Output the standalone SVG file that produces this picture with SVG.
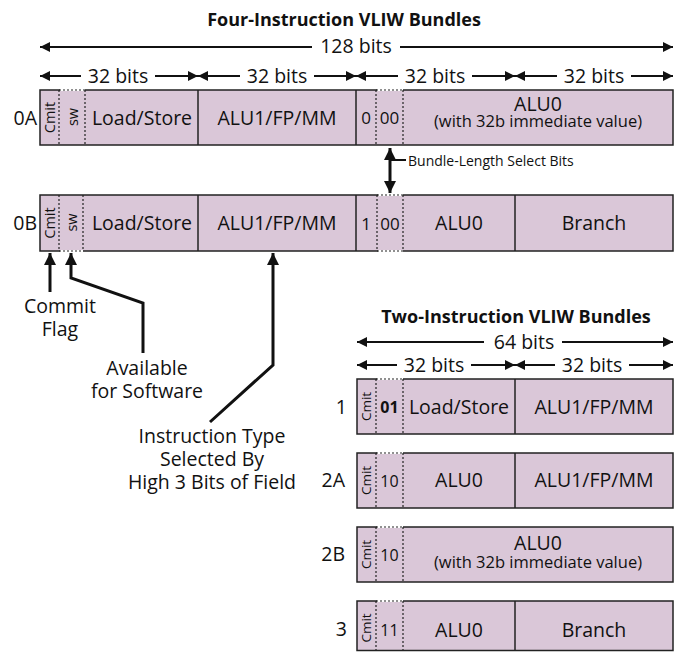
<svg xmlns="http://www.w3.org/2000/svg" width="676" height="652" viewBox="0 0 676 652">
<style>
text{font-family:"Open Sans","Noto Sans",sans-serif;fill:#111}
.t{font-size:19.5px;text-anchor:middle}
.ti{font-size:18px;font-weight:bold;text-anchor:middle}
.sm{font-size:16.5px;text-anchor:middle}
.lab{font-size:19.5px;text-anchor:end}
.rot{font-size:14.5px;text-anchor:middle}
.dig{font-size:17px;text-anchor:middle}
.cell{fill:#dac7d8;stroke:#222;stroke-width:1.5}
.sol{stroke:#222;stroke-width:1.5}
.dot{stroke:#222;stroke-width:1.2;stroke-dasharray:2 2;fill:none}
.wht{stroke:#fff;stroke-width:2}
.dim{stroke:#111;stroke-width:2;fill:none;marker-start:url(#ah);marker-end:url(#ah)}
.call{stroke:#111;stroke-width:3;fill:none;marker-end:url(#ah2)}
.bg{fill:#fff}
</style>
<defs>
<marker id="ah" viewBox="0 0 10 10" refX="10" refY="5" markerUnits="userSpaceOnUse" markerWidth="13" markerHeight="10" orient="auto-start-reverse"><path d="M0,0 L10,5 L0,10 z" fill="#111"/></marker>
<marker id="ah2" viewBox="0 0 10 10" refX="10" refY="5" markerUnits="userSpaceOnUse" markerWidth="13" markerHeight="12" orient="auto-start-reverse"><path d="M0,0 L10,5 L0,10 z" fill="#111"/></marker>
</defs>

<g id="titles">
<text class="ti" x="344" y="26">Four-Instruction VLIW Bundles</text>
<text class="ti" x="516" y="323">Two-Instruction VLIW Bundles</text>
</g>

<g id="connectors">
<line class="dim" x1="40" y1="47" x2="673" y2="47"/>
<rect class="bg" x="312" y="35" width="88" height="24"/>
<text class="t" x="356" y="53">128 bits</text>
<line class="dim" x1="40" y1="76" x2="198" y2="76"/>
<line class="dim" x1="198" y1="76" x2="356" y2="76"/>
<line class="dim" x1="356" y1="76" x2="515" y2="76"/>
<line class="dim" x1="515" y1="76" x2="673" y2="76"/>
<rect class="bg" x="81" y="64" width="74" height="24"/>
<rect class="bg" x="240" y="64" width="74" height="24"/>
<rect class="bg" x="398" y="64" width="74" height="24"/>
<rect class="bg" x="557" y="64" width="74" height="24"/>
<text class="t" x="118" y="82.5">32 bits</text>
<text class="t" x="277" y="82.5">32 bits</text>
<text class="t" x="435" y="82.5">32 bits</text>
<text class="t" x="594" y="82.5">32 bits</text>
<line class="dim" x1="357" y1="342" x2="673" y2="342"/>
<rect class="bg" x="484" y="331" width="78" height="22"/>
<text class="t" x="524" y="348.5">64 bits</text>
<line class="dim" x1="357" y1="365" x2="515" y2="365"/>
<line class="dim" x1="515" y1="365" x2="673" y2="365"/>
<rect class="bg" x="397" y="354" width="74" height="22"/>
<rect class="bg" x="555" y="354" width="74" height="22"/>
<text class="t" x="434" y="372">32 bits</text>
<text class="t" x="592" y="372">32 bits</text>
<line x1="390" y1="148" x2="390" y2="193" style="stroke:#111;stroke-width:3;marker-start:url(#ah2);marker-end:url(#ah2)"/>
<line x1="390" y1="160" x2="406" y2="160" style="stroke:#111;stroke-width:2"/>
<text x="408" y="166" style="font-size:14px">Bundle-Length Select Bits</text>
<path class="call" d="M50,292 L50,253"/>
<path class="call" d="M143,353 L143,303 L71,278 L71,253"/>
<path class="call" d="M210,422 L273,365 L273,253"/>
</g>

<g id="callout-labels">
<text class="t" x="60" y="313">Commit</text>
<text class="t" x="60" y="336">Flag</text>
<text class="t" x="147" y="375">Available</text>
<text class="t" x="147" y="398">for Software</text>
<text class="t" x="212" y="443">Instruction Type</text>
<text class="t" x="212" y="466">Selected By</text>
<text class="t" x="212" y="489">High 3 Bits of Field</text>
</g>

<g id="bundle-0A">
<rect class="cell" x="40" y="90" width="633" height="55"/>
<line class="wht" x1="60" y1="90" x2="85" y2="90"/>
<line class="dot" x1="59" y1="90" x2="85" y2="90"/>
<line class="wht" x1="377" y1="90" x2="403" y2="90"/>
<line class="dot" x1="376" y1="90" x2="403" y2="90"/>
<line class="dot" x1="59" y1="90" x2="59" y2="145"/>
<line class="dot" x1="85" y1="90" x2="85" y2="145"/>
<line class="sol" x1="198" y1="90" x2="198" y2="145"/>
<line class="sol" x1="356" y1="90" x2="356" y2="145"/>
<line class="dot" x1="376" y1="90" x2="376" y2="145"/>
<line class="dot" x1="403" y1="90" x2="403" y2="145"/>
<text class="lab" x="37" y="125">0A</text>
<text class="rot" transform="translate(54.5,117.5) rotate(-90)">Cmit</text>
<text class="rot" transform="translate(77.5,117) rotate(-90)">sw</text>
<text class="t" x="142" y="124.5">Load/Store</text>
<text class="t" x="277" y="124.5">ALU1/FP/MM</text>
<text class="dig" x="366" y="124">0</text>
<text class="dig" x="389.5" y="124">00</text>
<text class="t" x="538" y="110.5">ALU0</text>
<text class="sm" x="538" y="127">(with 32b immediate value)</text>
</g>

<g id="bundle-0B">
<rect class="cell" x="40" y="195" width="633" height="56"/>
<line class="wht" x1="60" y1="251" x2="83" y2="251"/>
<line class="dot" x1="59" y1="251" x2="83" y2="251"/>
<line class="wht" x1="378" y1="195" x2="403" y2="195"/>
<line class="dot" x1="377" y1="195" x2="403" y2="195"/>
<line class="wht" x1="378" y1="251" x2="403" y2="251"/>
<line class="dot" x1="377" y1="251" x2="403" y2="251"/>
<line class="dot" x1="59" y1="195" x2="59" y2="251"/>
<line class="dot" x1="83" y1="195" x2="83" y2="251"/>
<line class="sol" x1="198" y1="195" x2="198" y2="251"/>
<line class="sol" x1="356" y1="195" x2="356" y2="251"/>
<line class="dot" x1="377" y1="195" x2="377" y2="251"/>
<line class="dot" x1="403" y1="195" x2="403" y2="251"/>
<line class="sol" x1="515" y1="195" x2="515" y2="251"/>
<text class="lab" x="37" y="230">0B</text>
<text class="rot" transform="translate(54.5,223) rotate(-90)">Cmit</text>
<text class="rot" transform="translate(76.5,222.5) rotate(-90)">sw</text>
<text class="t" x="142" y="230">Load/Store</text>
<text class="t" x="277" y="230">ALU1/FP/MM</text>
<text class="dig" x="366" y="229.5">1</text>
<text class="dig" x="390" y="229.5">00</text>
<text class="t" x="459" y="230">ALU0</text>
<text class="t" x="594" y="230">Branch</text>
</g>

<g id="bundle-1">
<rect class="cell" x="357" y="379" width="316" height="55"/>
<line class="wht" x1="377" y1="379" x2="403" y2="379"/>
<line class="dot" x1="376" y1="379" x2="403" y2="379"/>
<line class="dot" x1="376" y1="379" x2="376" y2="434"/>
<line class="dot" x1="403" y1="379" x2="403" y2="434"/>
<line class="sol" x1="515" y1="379" x2="515" y2="434"/>
<text class="lab" x="347" y="413.5">1</text>
<text class="rot" transform="translate(370.5,406.5) rotate(-90)" style="font-size:13.5px">Cmit</text>
<text class="dig" x="389.5" y="413" style="font-weight:bold;font-size:16px">01</text>
<text class="t" x="459" y="413.5">Load/Store</text>
<text class="t" x="594" y="413.5">ALU1/FP/MM</text>
</g>

<g id="bundle-2A">
<rect class="cell" x="357" y="453" width="316" height="55"/>
<line class="wht" x1="377" y1="453" x2="403" y2="453"/>
<line class="dot" x1="376" y1="453" x2="403" y2="453"/>
<line class="dot" x1="376" y1="453" x2="376" y2="508"/>
<line class="dot" x1="403" y1="453" x2="403" y2="508"/>
<line class="sol" x1="515" y1="453" x2="515" y2="508"/>
<text class="lab" x="345" y="487">2A</text>
<text class="rot" transform="translate(370.5,480.5) rotate(-90)" style="font-size:13.5px">Cmit</text>
<text class="dig" x="389.5" y="487" style="font-size:16px">10</text>
<text class="t" x="459" y="487">ALU0</text>
<text class="t" x="594" y="487">ALU1/FP/MM</text>
</g>

<g id="bundle-2B">
<rect class="cell" x="357" y="527" width="316" height="55"/>
<line class="wht" x1="377" y1="527" x2="403" y2="527"/>
<line class="dot" x1="376" y1="527" x2="403" y2="527"/>
<line class="dot" x1="376" y1="527" x2="376" y2="582"/>
<line class="dot" x1="403" y1="527" x2="403" y2="582"/>
<text class="lab" x="345" y="561">2B</text>
<text class="rot" transform="translate(370.5,554.5) rotate(-90)" style="font-size:13.5px">Cmit</text>
<text class="dig" x="389.5" y="561" style="font-size:16px">10</text>
<text class="t" x="538" y="549.5">ALU0</text>
<text class="sm" x="538" y="568">(with 32b immediate value)</text>
</g>

<g id="bundle-3">
<rect class="cell" x="357" y="601" width="316" height="49.5"/>
<line class="wht" x1="377" y1="601" x2="403" y2="601"/>
<line class="dot" x1="376" y1="601" x2="403" y2="601"/>
<line class="dot" x1="376" y1="601" x2="376" y2="650"/>
<line class="dot" x1="403" y1="601" x2="403" y2="650"/>
<line class="sol" x1="515" y1="601" x2="515" y2="650"/>
<text class="lab" x="347" y="636">3</text>
<text class="rot" transform="translate(370.5,628) rotate(-90)" style="font-size:13.5px">Cmit</text>
<text class="dig" x="389.5" y="636" style="font-size:16px">11</text>
<text class="t" x="459" y="636.5">ALU0</text>
<text class="t" x="594" y="636.5">Branch</text>
</g>
</svg>
